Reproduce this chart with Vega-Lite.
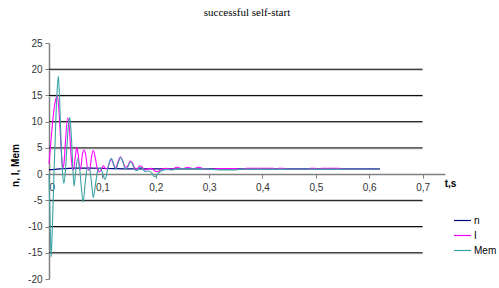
{
  "$schema": "https://vega.github.io/schema/vega-lite/v6.json",
  "autosize": "none",
  "width": 396,
  "height": 236,
  "padding": {"left": 49, "top": 43, "right": 54, "bottom": 9},
  "background": "white",
  "config": {"view": {"stroke": null}, "font": "Liberation Sans"},
  "title": {"text": "successful self-start", "font": "Liberation Serif", "fontSize": 11, "fontWeight": "normal", "color": "#000000", "anchor": "middle", "frame": "group", "offset": 20},
  "datasets": {
    "grid": [{"g": 20}, {"g": 15}, {"g": 10}, {"g": 5}, {"g": -5}, {"g": -10}, {"g": -15}],
    "series": [
      {"s": "n", "t": 0, "v": 0.85}, {"s": "n", "t": 0.01, "v": 0.9}, {"s": "n", "t": 0.02, "v": 1.0}, {"s": "n", "t": 0.03, "v": 1.05}, {"s": "n", "t": 0.05, "v": 1.15}, {"s": "n", "t": 0.08, "v": 1.15}, {"s": "n", "t": 0.1, "v": 1.1}, {"s": "n", "t": 0.12, "v": 1.05}, {"s": "n", "t": 0.15, "v": 1.0}, {"s": "n", "t": 0.2, "v": 1.0}, {"s": "n", "t": 0.62, "v": 1.0},
      {"s": "I", "t": 0, "v": 2.0}, {"s": "I", "t": 0.003, "v": 5.5}, {"s": "I", "t": 0.006, "v": 9}, {"s": "I", "t": 0.009, "v": 12}, {"s": "I", "t": 0.012, "v": 14}, {"s": "I", "t": 0.0155, "v": 15}, {"s": "I", "t": 0.018, "v": 13}, {"s": "I", "t": 0.021, "v": 8}, {"s": "I", "t": 0.024, "v": 3}, {"s": "I", "t": 0.026, "v": 1.2}, {"s": "I", "t": 0.028, "v": 2}, {"s": "I", "t": 0.031, "v": 6.5}, {"s": "I", "t": 0.035, "v": 10.7}, {"s": "I", "t": 0.038, "v": 9}, {"s": "I", "t": 0.041, "v": 4}, {"s": "I", "t": 0.044, "v": 1}, {"s": "I", "t": 0.046, "v": 0.8}, {"s": "I", "t": 0.049, "v": 3}, {"s": "I", "t": 0.052, "v": 5.1}, {"s": "I", "t": 0.055, "v": 3.5}, {"s": "I", "t": 0.058, "v": 0.8}, {"s": "I", "t": 0.06, "v": 1.5}, {"s": "I", "t": 0.063, "v": 4}, {"s": "I", "t": 0.066, "v": 4.6}, {"s": "I", "t": 0.069, "v": 3.5}, {"s": "I", "t": 0.073, "v": 0.8}, {"s": "I", "t": 0.076, "v": 0.8}, {"s": "I", "t": 0.08, "v": 3.5}, {"s": "I", "t": 0.083, "v": 4.5}, {"s": "I", "t": 0.087, "v": 3.0}, {"s": "I", "t": 0.091, "v": 0.8}, {"s": "I", "t": 0.094, "v": 0.4}, {"s": "I", "t": 0.098, "v": 0.9}, {"s": "I", "t": 0.102, "v": 1.6}, {"s": "I", "t": 0.106, "v": 1.0}, {"s": "I", "t": 0.11, "v": 1.2}, {"s": "I", "t": 0.114, "v": 2.4}, {"s": "I", "t": 0.117, "v": 2.8}, {"s": "I", "t": 0.121, "v": 1.8}, {"s": "I", "t": 0.125, "v": 1.2}, {"s": "I", "t": 0.13, "v": 2.5}, {"s": "I", "t": 0.134, "v": 3.3}, {"s": "I", "t": 0.138, "v": 2.5}, {"s": "I", "t": 0.143, "v": 1.3}, {"s": "I", "t": 0.148, "v": 1.6}, {"s": "I", "t": 0.152, "v": 2.5}, {"s": "I", "t": 0.156, "v": 2.2}, {"s": "I", "t": 0.161, "v": 1.1}, {"s": "I", "t": 0.165, "v": 1.0}, {"s": "I", "t": 0.17, "v": 1.6}, {"s": "I", "t": 0.174, "v": 1.4}, {"s": "I", "t": 0.18, "v": 0.8}, {"s": "I", "t": 0.186, "v": 1.0}, {"s": "I", "t": 0.192, "v": 1.1}, {"s": "I", "t": 0.198, "v": 0.6}, {"s": "I", "t": 0.204, "v": 0.5}, {"s": "I", "t": 0.21, "v": 0.9}, {"s": "I", "t": 0.22, "v": 1.1}, {"s": "I", "t": 0.23, "v": 0.9}, {"s": "I", "t": 0.24, "v": 1.3}, {"s": "I", "t": 0.25, "v": 1.0}, {"s": "I", "t": 0.26, "v": 1.3}, {"s": "I", "t": 0.27, "v": 1.0}, {"s": "I", "t": 0.28, "v": 1.3}, {"s": "I", "t": 0.29, "v": 1.0}, {"s": "I", "t": 0.3, "v": 0.9}, {"s": "I", "t": 0.32, "v": 1.05}, {"s": "I", "t": 0.35, "v": 1.05}, {"s": "I", "t": 0.36, "v": 0.9}, {"s": "I", "t": 0.37, "v": 1.1}, {"s": "I", "t": 0.42, "v": 1.1}, {"s": "I", "t": 0.425, "v": 0.9}, {"s": "I", "t": 0.43, "v": 1.1}, {"s": "I", "t": 0.44, "v": 1.1}, {"s": "I", "t": 0.445, "v": 0.9}, {"s": "I", "t": 0.485, "v": 0.9}, {"s": "I", "t": 0.49, "v": 1.1}, {"s": "I", "t": 0.5, "v": 1.1}, {"s": "I", "t": 0.505, "v": 0.9}, {"s": "I", "t": 0.51, "v": 1.1}, {"s": "I", "t": 0.545, "v": 1.1}, {"s": "I", "t": 0.55, "v": 0.9}, {"s": "I", "t": 0.62, "v": 0.9},
      {"s": "Mem", "t": 0, "v": 0}, {"s": "Mem", "t": 0.002, "v": -9}, {"s": "Mem", "t": 0.004, "v": -15.8}, {"s": "Mem", "t": 0.006, "v": -11}, {"s": "Mem", "t": 0.009, "v": -1}, {"s": "Mem", "t": 0.012, "v": 8}, {"s": "Mem", "t": 0.015, "v": 15.5}, {"s": "Mem", "t": 0.0175, "v": 18.7}, {"s": "Mem", "t": 0.02, "v": 14}, {"s": "Mem", "t": 0.023, "v": 5}, {"s": "Mem", "t": 0.026, "v": -0.5}, {"s": "Mem", "t": 0.028, "v": -1.8}, {"s": "Mem", "t": 0.031, "v": 1}, {"s": "Mem", "t": 0.034, "v": 6}, {"s": "Mem", "t": 0.037, "v": 10}, {"s": "Mem", "t": 0.039, "v": 10.8}, {"s": "Mem", "t": 0.042, "v": 7}, {"s": "Mem", "t": 0.045, "v": 0.5}, {"s": "Mem", "t": 0.047, "v": -2.3}, {"s": "Mem", "t": 0.05, "v": 0.5}, {"s": "Mem", "t": 0.054, "v": 3}, {"s": "Mem", "t": 0.058, "v": 0.5}, {"s": "Mem", "t": 0.061, "v": -3}, {"s": "Mem", "t": 0.064, "v": -5.3}, {"s": "Mem", "t": 0.068, "v": -1.5}, {"s": "Mem", "t": 0.072, "v": 1.2}, {"s": "Mem", "t": 0.076, "v": 1}, {"s": "Mem", "t": 0.08, "v": -2}, {"s": "Mem", "t": 0.083, "v": -4.5}, {"s": "Mem", "t": 0.087, "v": -2}, {"s": "Mem", "t": 0.091, "v": 0.5}, {"s": "Mem", "t": 0.096, "v": 1.2}, {"s": "Mem", "t": 0.1, "v": 0.3}, {"s": "Mem", "t": 0.105, "v": -1}, {"s": "Mem", "t": 0.109, "v": 0.5}, {"s": "Mem", "t": 0.113, "v": 2.2}, {"s": "Mem", "t": 0.117, "v": 3.0}, {"s": "Mem", "t": 0.121, "v": 2.0}, {"s": "Mem", "t": 0.125, "v": 0.9}, {"s": "Mem", "t": 0.13, "v": 2.2}, {"s": "Mem", "t": 0.134, "v": 3.2}, {"s": "Mem", "t": 0.138, "v": 2.5}, {"s": "Mem", "t": 0.143, "v": 1.0}, {"s": "Mem", "t": 0.148, "v": 1.4}, {"s": "Mem", "t": 0.152, "v": 2.3}, {"s": "Mem", "t": 0.156, "v": 2.0}, {"s": "Mem", "t": 0.161, "v": 0.8}, {"s": "Mem", "t": 0.165, "v": 0.7}, {"s": "Mem", "t": 0.17, "v": 1.3}, {"s": "Mem", "t": 0.174, "v": 1.2}, {"s": "Mem", "t": 0.18, "v": 0.5}, {"s": "Mem", "t": 0.186, "v": 0.6}, {"s": "Mem", "t": 0.192, "v": 0.3}, {"s": "Mem", "t": 0.198, "v": -0.5}, {"s": "Mem", "t": 0.204, "v": 0.1}, {"s": "Mem", "t": 0.21, "v": 0.6}, {"s": "Mem", "t": 0.22, "v": 0.9}, {"s": "Mem", "t": 0.23, "v": 0.8}, {"s": "Mem", "t": 0.24, "v": 1.0}, {"s": "Mem", "t": 0.26, "v": 1.0}, {"s": "Mem", "t": 0.28, "v": 1.0}, {"s": "Mem", "t": 0.3, "v": 0.95}, {"s": "Mem", "t": 0.32, "v": 0.8}, {"s": "Mem", "t": 0.35, "v": 0.8}, {"s": "Mem", "t": 0.36, "v": 0.95}, {"s": "Mem", "t": 0.62, "v": 0.95}
    ]
  },
  "layer": [
    {
      "data": {"name": "grid"},
      "mark": {"type": "rule", "color": "#c0c0c0", "strokeWidth": 1, "yOffset": 1},
      "encoding": {
        "x": {"datum": 0, "type": "quantitative"},
        "x2": {"datum": 0.7},
        "y": {"field": "g", "type": "quantitative"}
      }
    },
    {
      "data": {"name": "grid"},
      "mark": {"type": "rule", "color": "#000000", "strokeWidth": 1},
      "encoding": {
        "x": {"datum": 0, "type": "quantitative"},
        "x2": {"datum": 0.7},
        "y": {"field": "g", "type": "quantitative"}
      }
    },
    {
      "data": {"name": "series"},
      "mark": {"type": "line", "strokeWidth": 1.1, "interpolate": "monotone"},
      "encoding": {
        "x": {
          "field": "t", "type": "quantitative",
          "scale": {"domain": [0, 0.742], "nice": false, "zero": false},
          "axis": {
            "values": [0, 0.1, 0.2, 0.3, 0.4, 0.5, 0.6, 0.7],
            "tickCount": 20,
            "labelExpr": "datum.value == 0 ? '0' : replace(format(datum.value, '.1f'), '.', ',')",
            "labelOverlap": false,
            "offset": -104.9,
            "grid": false,
            "domainColor": "#808080", "domainWidth": 1.5,
            "tickColor": "#808080", "tickSize": 4, "tickWidth": 1,
            "labelPadding": 4, "labelFontSize": 10, "labelColor": "#333333", "labelFont": "Liberation Sans",
            "title": "t,s", "titleFontSize": 10, "titleFontWeight": "bold", "titleColor": "#000000", "titleFont": "Liberation Sans",
            "titleX": 401, "titleY": 9, "titleBaseline": "middle", "titleAlign": "center"
          }
        },
        "y": {
          "field": "v", "type": "quantitative",
          "scale": {"domain": [-20, 25], "nice": false},
          "axis": {
            "values": [-20, -15, -10, -5, 0, 5, 10, 15, 20, 25],
            "tickCount": 20,
            "labelExpr": "datum.value < 0 ? '-' + abs(datum.value) : '' + datum.value",
            "labelOverlap": false,
            "grid": false,
            "domainColor": "#808080", "domainWidth": 1.5,
            "tickColor": "#808080", "tickSize": 4, "tickWidth": 1,
            "labelPadding": 3, "labelFontSize": 10, "labelColor": "#333333", "labelFont": "Liberation Sans",
            "title": "n, I, Mem", "titleFontSize": 10, "titleFontWeight": "bold", "titleColor": "#000000", "titleFont": "Liberation Sans",
            "titleX": -34, "titleY": 122, "titleBaseline": "middle", "titleAlign": "center", "titleAngle": -90
          }
        },
        "color": {
          "field": "s", "type": "nominal",
          "scale": {"domain": ["n", "I", "Mem"], "range": ["#000080", "#ff00ff", "#3aa3a3"]},
          "legend": {
            "title": null, "orient": "none", "legendX": 404, "legendY": 168,
            "symbolType": "stroke", "symbolSize": 289, "symbolStrokeWidth": 1.2,
            "labelFontSize": 10, "labelFont": "Liberation Sans", "labelColor": "#000000", "labelOffset": 2,
            "rowPadding": -1
          }
        },
        "order": {"field": "t", "type": "quantitative"}
      }
    }
  ]
}
